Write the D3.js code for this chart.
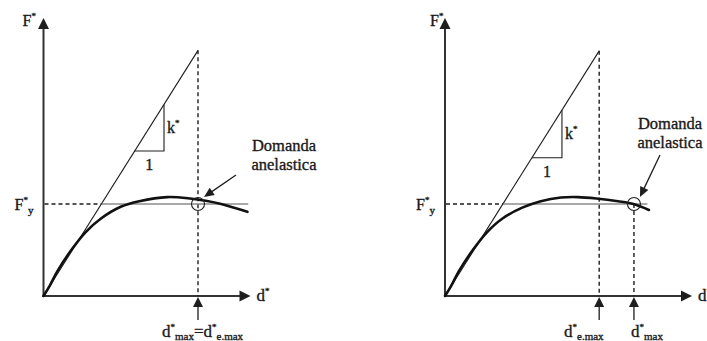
<!DOCTYPE html>
<html>
<head>
<meta charset="utf-8">
<script src="https://cdn.jsdelivr.net/npm/d3@7"></script>
<style>
  html, body { margin: 0; padding: 0; background: #fff; }
  svg { display: block; }
  text { font-family: "Liberation Serif", "Times New Roman", serif; fill: #1a1a1a; stroke: #1a1a1a; stroke-width: 0.35px; }
</style>
</head>
<body>
<svg id="chart" width="707" height="341"></svg>
<script>
// Capacity curve of the equivalent SDOF system (d*, F*), F normalised to F*y = 1
const curveDispA  = [0, 0.04, 0.09, 0.18, 0.27, 0.37, 0.50, 0.62, 0.80, 0.95, 1.05, 1.15, 1.32];
const curveForceA = [0, 0.11, 0.27, 0.50, 0.69, 0.84, 0.97, 1.03, 1.075, 1.06, 1.035, 1.00, 0.915];
const curveDispB  = [0, 0.04, 0.09, 0.18, 0.27, 0.37, 0.50, 0.62, 0.75, 0.86, 0.98, 1.12, 1.22, 1.32];
const curveForceB = [0, 0.11, 0.27, 0.50, 0.69, 0.84, 0.96, 1.03, 1.07, 1.075, 1.06, 1.03, 1.00, 0.935];

// Elastic stiffness k*, yield force F*y and displacement demands
const elasticStiffness = 2.67;
const yieldForce = 1;
const elasticDemand = [1.0, 0.998];     // d*e,max for panel A and B
const inelasticDemand = [1.0, 1.223];   // d*max for panel A and B
const triangleSpan = [[0.59, 0.78], [0.563, 0.757]];
const plateauEnd = [1.325, 1.31];

// Axis and annotation labels
const axisLabelY = "F";
const axisLabelX = "d";
const yieldLabel = "F";
const stiffnessLabel = "k";
const unitLabel = "1";
const demandLabel = ["Domanda", "anelastica"];

const svg = d3.select("#chart");
const ink = "#1e1e1e";
const PX_PER_UNIT = 154.5;

const y = d3.scaleLinear().domain([0, 3]).range([296, 20]);

const panels = [
  { ox: 43.5, axisLen: 207, dispD: curveDispA, dispF: curveForceA, idx: 0 },
  { ox: 445,  axisLen: 247, dispD: curveDispB, dispF: curveForceB, idx: 1 }
];

function arrowHead(g, tipX, tipY, dirX, dirY, len, half) {
  const n = Math.hypot(dirX, dirY); const ux = dirX / n, uy = dirY / n;
  const bx = tipX - ux * len, by = tipY - uy * len;
  const px = -uy * half, py = ux * half;
  g.append("path")
    .attr("d", `M${tipX},${tipY}L${bx + px},${by + py}L${bx - px},${by - py}Z`)
    .attr("fill", ink);
}

// text made of runs: {t, size, dy} where dy is offset from the baseline
function richText(g, x0, base, parts, anchor) {
  const t = g.append("text").attr("x", x0).attr("y", base).attr("text-anchor", anchor || "start");
  let prev = 0;
  parts.forEach(p => {
    const off = p.dy || 0;
    t.append("tspan").attr("dy", off - prev).attr("font-size", p.size || 15).text(p.t);
    prev = off;
  });
  return t;
}

panels.forEach(p => {
  const g = svg.append("g");
  const x = d3.scaleLinear().domain([0, p.axisLen / PX_PER_UNIT]).range([p.ox, p.ox + p.axisLen]);
  const x0 = x(0), y0 = y(0);

  // axes
  g.append("line").attr("x1", x0).attr("y1", y0 + 1).attr("x2", x0).attr("y2", 26)
    .attr("stroke", "#333").attr("stroke-width", 2);
  arrowHead(g, x0, 18, 0, -1, 11, 5.5);
  g.append("line").attr("x1", x0 - 1).attr("y1", y0).attr("x2", x0 + p.axisLen - 8).attr("y2", y0)
    .attr("stroke", "#333").attr("stroke-width", 2);
  arrowHead(g, x0 + p.axisLen, y0, 1, 0, 11, 5.5);

  const dE = elasticDemand[p.idx], dM = inelasticDemand[p.idx];
  const fE = elasticStiffness * dE;
  const dY = yieldForce / elasticStiffness;

  // elastic branch
  g.append("line").attr("x1", x0).attr("y1", y0).attr("x2", x(dE)).attr("y2", y(fE))
    .attr("stroke", ink).attr("stroke-width", 1.1);

  // dashed guides
  const dash = "4,3";
  g.append("line").attr("x1", x(dE)).attr("y1", y(fE)).attr("x2", x(dE)).attr("y2", y0)
    .attr("stroke", ink).attr("stroke-width", 1.4).attr("stroke-dasharray", dash);
  if (dM !== dE) {
    g.append("line").attr("x1", x(dM)).attr("y1", y(yieldForce)).attr("x2", x(dM)).attr("y2", y0)
      .attr("stroke", ink).attr("stroke-width", 1.4).attr("stroke-dasharray", dash);
  }
  g.append("line").attr("x1", x0 + 1).attr("y1", y(yieldForce)).attr("x2", x(dY)).attr("y2", y(yieldForce))
    .attr("stroke", ink).attr("stroke-width", 1.4).attr("stroke-dasharray", dash);

  // bilinear plateau
  g.append("line").attr("x1", x(dY)).attr("y1", y(yieldForce)).attr("x2", x(plateauEnd[p.idx])).attr("y2", y(yieldForce))
    .attr("stroke", "#555").attr("stroke-width", 1.2);

  // slope triangle
  const [ta, tb] = triangleSpan[p.idx];
  g.append("path")
    .attr("d", `M${x(ta)},${y(elasticStiffness * ta)}L${x(tb)},${y(elasticStiffness * ta)}L${x(tb)},${y(elasticStiffness * tb)}`)
    .attr("fill", "none").attr("stroke", ink).attr("stroke-width", 1.1);

  // capacity curve
  const pts = p.dispD.map((d, i) => [d, p.dispF[i]]);
  g.append("path").datum(pts)
    .attr("d", d3.line().x(d => x(d[0])).y(d => y(d[1])).curve(d3.curveCatmullRom.alpha(0.5)))
    .attr("fill", "none").attr("stroke", "#111").attr("stroke-width", 2.6).attr("stroke-linecap", "round");

  // demand point marker
  g.append("circle").attr("cx", x(dM)).attr("cy", y(yieldForce)).attr("r", 6.5)
    .attr("fill", "none").attr("stroke", ink).attr("stroke-width", 1.1);

  // demand arrows under the axis
  const demands = dM !== dE ? [dE, dM] : [dE];
  demands.forEach(d => {
    g.append("line").attr("x1", x(d)).attr("y1", y0 + 8).attr("x2", x(d)).attr("y2", 320)
      .attr("stroke", ink).attr("stroke-width", 1.3);
    arrowHead(g, x(d), y0 + 1, 0, -1, 10, 5);
  });

  const sup = s => ({ t: s, size: 9, dy: -7 });
  const sub = (s, dy) => ({ t: s, size: 11, dy: dy || 4 });

  // axis labels
  richText(g, x0 - 21 + (p.idx ? 6 : 0), 26, [{ t: axisLabelY, size: 16 }, sup("*")]);
  richText(g, x0 + p.axisLen + 6, 301, [{ t: axisLabelX, size: 17 }, sup("*")]);
  richText(g, x0 - 29, 210, [{ t: yieldLabel, size: 16 }, sup("*"), sub("y", 4)]);

  // triangle labels
  const kx = x(tb) + 3, ky = (y(elasticStiffness * ta) + y(elasticStiffness * tb)) / 2 + 5;
  richText(g, kx, ky, [{ t: stiffnessLabel, size: 16 }, sup("*")]);
  richText(g, (x(ta) + x(tb)) / 2, y(elasticStiffness * ta) + 19, [{ t: unitLabel, size: 16 }], "middle");

  // demand callout
  const lab = p.idx ? { cx: 670, b1: 129, b2: 148, sx: 660, sy: 155 } : { cx: 284, b1: 151, b2: 170, sx: 236, sy: 175 };
  richText(g, lab.cx, lab.b1, [{ t: demandLabel[0], size: 16.5 }], "middle");
  richText(g, lab.cx, lab.b2, [{ t: demandLabel[1], size: 16.5 }], "middle");
  const tipX = x(dM) + 6, tipY = y(yieldForce) - 7;
  g.append("line").attr("x1", lab.sx).attr("y1", lab.sy).attr("x2", tipX + (lab.sx - tipX) * 0.2).attr("y2", tipY + (lab.sy - tipY) * 0.2)
    .attr("stroke", ink).attr("stroke-width", 1.3);
  arrowHead(g, tipX, tipY, tipX - lab.sx, tipY - lab.sy, 10, 4.5);

  // demand labels under the axis
  if (p.idx === 0) {
    richText(g, 162, 337, [{ t: "d", size: 17 }, sup("*"), sub("max", 3), { t: "=d", size: 17 }, sup("*"), sub("e.max", 3)]);
  } else {
    richText(g, 564, 337, [{ t: "d", size: 17 }, sup("*"), sub("e.max", 3)]);
    richText(g, 631, 337, [{ t: "d", size: 17 }, sup("*"), sub("max", 3)]);
  }
});
</script>
</body>
</html>
